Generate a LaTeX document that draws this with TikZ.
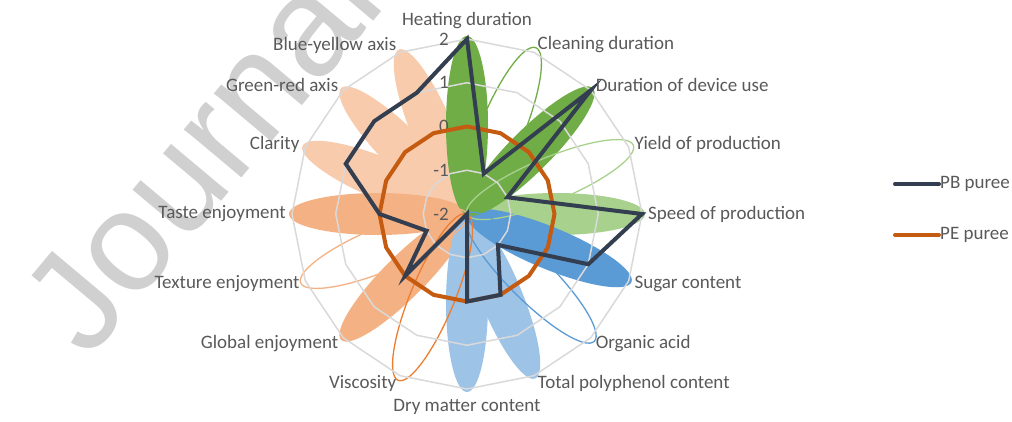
\documentclass[tikz,border=0pt]{standalone}
\usepackage{fontspec}
\setmainfont{Carlito}
\newfontfamily\wmfont{Liberation Sans}
\usetikzlibrary{positioning,calc}
\definecolor{gridgray}{HTML}{D9D9D9}
\definecolor{labelgray}{HTML}{595959}
\definecolor{pbnavy}{HTML}{333F50}
\definecolor{peorange}{HTML}{C55A11}
\definecolor{leafgreen}{HTML}{70AD47}
\definecolor{leaflgreen}{HTML}{A9D18E}
\definecolor{leafblue}{HTML}{5B9BD5}
\definecolor{leaflblue}{HTML}{9DC3E6}
\definecolor{leaforange}{HTML}{ED7D31}
\definecolor{leafmorange}{HTML}{F4B183}
\definecolor{leafpeach}{HTML}{F8CBAD}
\definecolor{wmgray}{HTML}{D0D0D0}

\tikzset{
  axislabel/.style={text=labelgray, font=\fontsize{19}{22}\selectfont, inner sep=2pt},
  ticklabel/.style={text=labelgray, font=\fontsize{19}{22}\selectfont, inner sep=1pt},
  legendtext/.style={text=labelgray, font=\fontsize{19}{22}\selectfont, inner sep=1pt},
  wmtext/.style={text=wmgray, font=\wmfont\fontsize{142}{142}\selectfont, inner sep=0pt},
  gridring/.style={gridgray, line width=1.5},
  pbline/.style={pbnavy, line width=4, line join=miter},
  peline/.style={peorange, line width=4, line join=round},
  leafline/.style={line width=1.3},
}

\begin{document}
\begin{tikzpicture}[x=1pt, y=1pt]
  \useasboundingbox (0,0) rectangle (1012,-421);
  \coordinate (c) at (467,-214);

  % Watermark
  \node[wmtext, rotate=50, anchor=base west] (wm) at (88,-361) {Journal};

  % Filled leaves
  \foreach \a/\col in {292.5/leafpeach, 315/leafpeach, 337.5/leafpeach,
                       270/leafmorange, 225/leafmorange,
                       157.5/leaflblue, 180/leaflblue,
                       90/leaflgreen, 112.5/leafblue, 45/leafgreen, 0/leafgreen}
    \fill[\col, shift={(c)}, rotate={90-\a}] (89,0) ellipse (89 and 21);

  % Outlined leaves
  \foreach \a/\col in {22.5/leafgreen, 67.5/leaflgreen, 135/leafblue,
                       202.5/leaforange, 247.5/leafmorange}
    \draw[leafline, \col, shift={(c)}, rotate={90-\a}] (90,0) ellipse (90 and 22);

  % Grid rings
  \foreach \k in {1,...,4}
    \draw[gridring] ($(c)+(90:\k*43.75)$)
      \foreach \i in {1,...,15}{ -- ($(c)+({90-22.5*\i}:\k*43.75)$) } -- cycle;

  % Tick labels
  \foreach \v [count=\k from 0] in {-2,-1,0,1,2}
    \node[ticklabel, anchor=east] (tick\k) at ($(c)+(-17,\k*43.75)$) {\v};

  % PE puree
  \foreach \i in {0,...,15}
    \coordinate (pe\i) at ($(c)+({90-22.5*\i}:87.5)$);
  \draw[peline] (pe0) \foreach \i in {1,...,15}{ -- (pe\i) } -- cycle;

  % PB puree
  \foreach \v [count=\i from 0] in {2,-1,2,-1,2,1,-1,0,0,-2,0,-1,0,1,1,1}
    \coordinate (pb\i) at ($(c)+({90-22.5*\i}:{(\v+2)*43.75})$);
  \draw[pbline] (pb0) \foreach \i in {1,...,15}{ -- (pb\i) } -- cycle;

  % Axis labels
  \foreach \a/\txt/\anc [count=\i] in {
      0/Heating duration/south, 22.5/Cleaning duration/west,
      45/Duration of device use/west, 67.5/Yield of production/west,
      90/Speed of production/west, 112.5/Sugar content/west,
      135/Organic acid/west, 157.5/Total polyphenol content/west,
      180/Dry matter content/north, 202.5/Viscosity/east,
      225/Global enjoyment/east, 247.5/Texture enjoyment/east,
      270/Taste enjoyment/east, 292.5/Clarity/east,
      315/Green-red axis/east, 337.5/Blue-yellow axis/east}
    \node[axislabel, anchor=\anc] (axis\i) at ($(c)+({90-\a}:179)+(0,{4*cos(\a)})$) {\txt};

  % Legend
  \node[legendtext, anchor=west] (pbkey) at (939,-184) {PB puree};
  \node[legendtext, anchor=west] (pekey) at (939,-235) {PE puree};
  \draw[pbline, line cap=round] (pbkey.west) -- ++(-44,0);
  \draw[peline, line cap=round] (pekey.west) -- ++(-44,0);
\end{tikzpicture}
\end{document}
